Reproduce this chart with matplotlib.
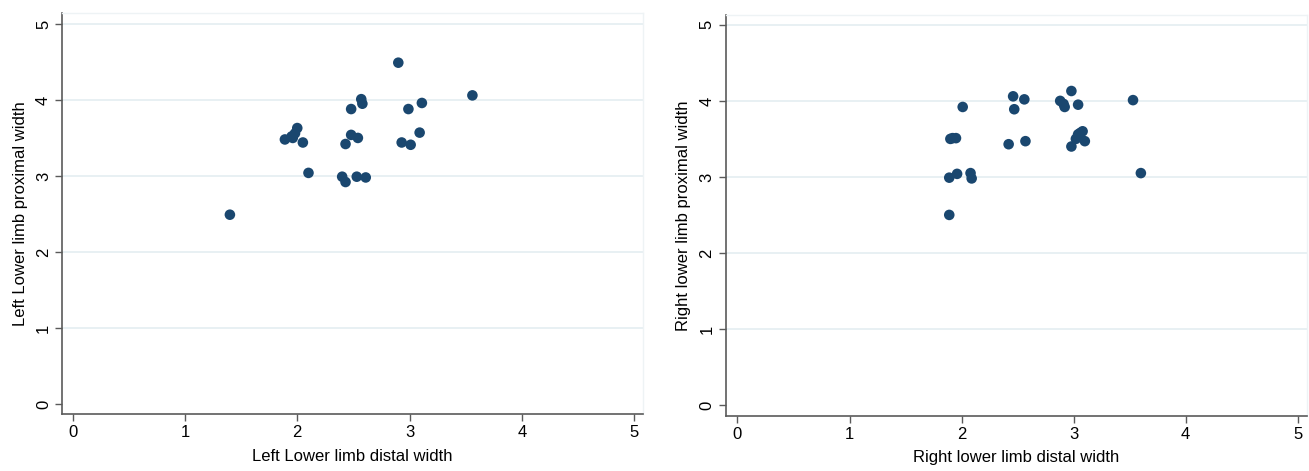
import matplotlib
matplotlib.use("Agg")
import matplotlib.pyplot as plt

plt.rcParams['font.family'] = ['Liberation Sans Narrow', 'Liberation Sans', 'DejaVu Sans']

# datos del panel izquierdo
left_distal = [1.40, 2.90, 3.56, 2.57, 2.58, 2.48, 2.99, 3.11, 1.89, 1.96, 1.98, 2.00,
               2.05, 2.48, 2.54, 2.43, 2.93, 3.01, 3.09, 2.10, 2.40, 2.43, 2.53, 2.61, 1.95]
left_proximal = [2.49, 4.49, 4.06, 4.01, 3.95, 3.88, 3.88, 3.96, 3.48, 3.50, 3.56, 3.63,
                 3.44, 3.54, 3.50, 3.42, 3.44, 3.41, 3.57, 3.04, 2.99, 2.92, 2.99, 2.98, 3.52]

# datos del panel derecho
right_distal = [1.89, 1.89, 1.96, 2.08, 2.09, 1.90, 1.92, 1.95, 2.01, 2.46, 2.56, 2.47,
                2.42, 2.57, 2.98, 2.88, 2.91, 2.92, 3.04, 3.53, 3.60, 2.98, 3.02, 3.04,
                3.06, 3.08, 3.10]
right_proximal = [2.50, 2.99, 3.04, 3.05, 2.98, 3.50, 3.51, 3.51, 3.92, 4.06, 4.02, 3.89,
                  3.43, 3.47, 4.13, 4.00, 3.96, 3.92, 3.95, 4.01, 3.05, 3.40, 3.50, 3.56,
                  3.58, 3.60, 3.47]

ticks = [0, 1, 2, 3, 4, 5]

fig = plt.figure(figsize=(13.09, 4.71), dpi=100)

def panel(rect, xlim, ylim, x, y, xlab, ylab):
    ax = fig.add_axes(rect)
    ax.scatter(x, y, s=58, color="#1a476f", edgecolors="none", zorder=3)
    ax.set_xlim(*xlim)
    ax.set_ylim(*ylim)
    ax.set_xticks(ticks)
    ax.set_yticks(ticks)
    for t in ticks[1:]:
        ax.axhline(t, color="#e4eef1", lw=1.2, zorder=1)
    for s in ["left", "bottom"]:
        ax.spines[s].set_color("#5a5a5a")
        ax.spines[s].set_linewidth(1.2)
    for s in ["top", "right"]:
        ax.spines[s].set_color("#eef3f5")
        ax.spines[s].set_linewidth(1.0)
    ax.tick_params(direction="out", length=5, width=1, color="#5a5a5a",
                   labelsize=12, pad=3)
    for lbl in ax.get_yticklabels():
        lbl.set_rotation(90)
        lbl.set_va("center")
    ax.set_xlabel(xlab, fontsize=12, labelpad=6)
    ax.set_ylabel(ylab, fontsize=12, labelpad=6)
    return ax

panel([0.0474, 0.1204, 0.4436, 0.8514], (-0.095, 5.077), (-0.136, 5.14),
      left_distal, left_proximal,
      "Left Lower limb distal width", "Left Lower limb proximal width")
panel([0.5544, 0.1168, 0.4441, 0.8514], (-0.105, 5.083), (-0.145, 5.13),
      right_distal, right_proximal,
      "Right lower limb distal width", "Right lower limb proximal width")

plt.savefig("out.png", dpi=100)
